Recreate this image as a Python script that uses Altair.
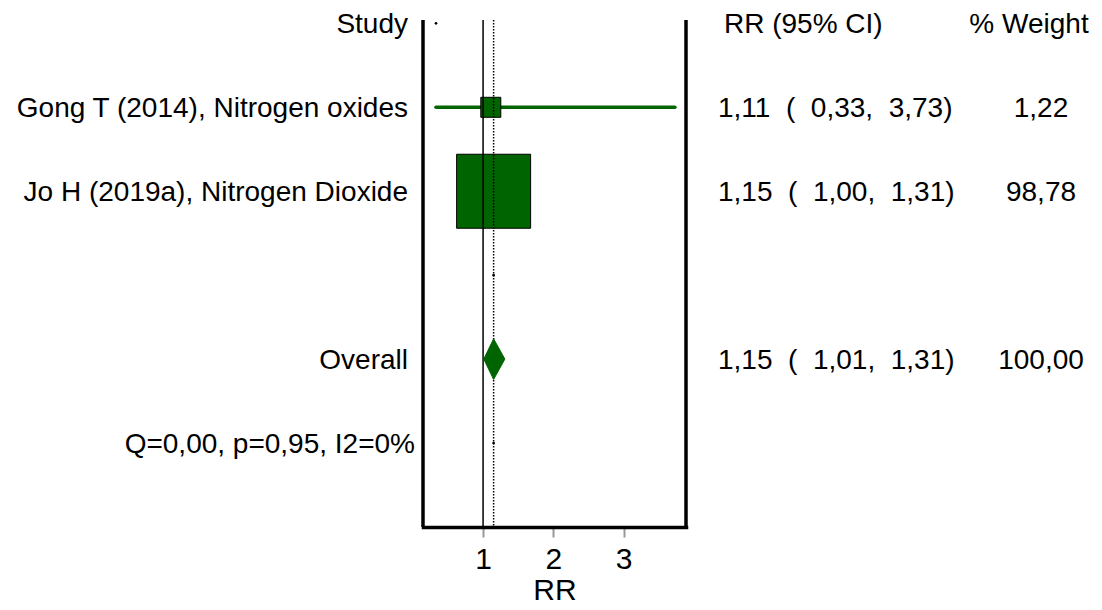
import altair as alt
import pandas as pd

# ---------------- data ----------------
header_study = "Study"
header_ci = "RR (95% CI)"
header_weight = "% Weight"
studies = ["Gong T (2014), Nitrogen oxides", "Jo H (2019a), Nitrogen Dioxide"]
rr = [1.11, 1.15]
ci_low = [0.33, 1.00]
ci_high = [3.73, 1.31]
weights = [1.22, 98.78]
overall_label = "Overall"
overall_rr = 1.15
overall_low = 1.01
overall_high = 1.31
overall_weight = 100.00
het_label = "Q=0,00, p=0,95, I2=0%"
null_value = 1
x_ticks = [1, 2, 3]
x_title = "RR"
# row order, top to bottom
row_header = 0
rows_studies = [1, 2]
row_overall = 4
row_het = 5
marker_x = [0.33, 1.15, 1.15]
marker_rows = [0, 3, 5]

# ---------------- helpers ----------------
NB = "\u00a0"


def fmt(v):
    return f"{v:.2f}".replace(".", ",")


def ci_text(e, lo, hi):
    return f"{fmt(e)}{NB*2}({NB*2}{fmt(lo)},{NB*2}{fmt(hi)})"


GREEN = "#006400"
FONT = "Liberation Sans"
FS = 28
AFS = 30
W, H = 263, 507

xs = alt.Scale(domain=[0.145, 3.888], nice=False, zero=False)
ys = alt.Scale(domain=[-0.04, 6], nice=False, zero=False, reverse=True)

studies_df = pd.DataFrame({
    "label": studies, "rr": rr, "lo": ci_low, "hi": ci_high,
    "weight": weights, "row": rows_studies,
    "ci": [ci_text(a, b, c) for a, b, c in zip(rr, ci_low, ci_high)],
    "wt": [fmt(w) for w in weights],
})

half = 0.242
diamond_df = pd.DataFrame({
    "x": [overall_low, overall_rr, overall_high],
    "y": [row_overall, row_overall - half, row_overall],
    "y2": [row_overall, row_overall + half, row_overall],
})

left_df = pd.DataFrame({
    "label": [header_study] + studies + [overall_label],
    "row": [row_header] + rows_studies + [row_overall],
})
het_df = pd.DataFrame({"label": [het_label], "row": [row_het]})
ci_head_df = pd.DataFrame({"label": [header_ci], "row": [row_header]})
wt_head_df = pd.DataFrame({"label": [header_weight], "row": [row_header]})
ci_vals_df = pd.DataFrame({
    "label": list(studies_df["ci"]) + [ci_text(overall_rr, overall_low, overall_high)],
    "row": rows_studies + [row_overall],
})
wt_vals_df = pd.DataFrame({
    "label": list(studies_df["wt"]) + [fmt(overall_weight)],
    "row": rows_studies + [row_overall],
})
ref_df = pd.DataFrame({"v": [null_value]})
pooled_df = pd.DataFrame({"v": [overall_rr]})
marker_df = pd.DataFrame({"x": marker_x, "row": marker_rows})

X_AXIS = alt.Axis(values=x_ticks, format="d", title=x_title, grid=False,
                  domainColor="black", domainWidth=3.5, domainCap="square",
                  tickColor="#999999", tickWidth=2, tickSize=10,
                  labelFont=FONT, labelFontSize=AFS, labelColor="black",
                  labelPadding=7, titleFont=FONT, titleFontSize=AFS,
                  titleFontWeight="normal", titleColor="black", titlePadding=1)

# CI lines
ci_lines = alt.Chart(studies_df).mark_rule(
    color=GREEN, strokeWidth=3.5, strokeCap="round"
).encode(
    x=alt.X("lo:Q", scale=xs, axis=X_AXIS),
    x2="hi:Q",
    y=alt.Y("row:Q", scale=ys, axis=None),
)

squares = alt.Chart(studies_df).mark_point(
    shape="square", filled=True, fill=GREEN, stroke="black", strokeWidth=1,
    opacity=1
).encode(
    x=alt.X("rr:Q", scale=xs),
    y=alt.Y("row:Q", scale=ys),
    size=alt.Size("weight:Q", scale=alt.Scale(domain=[1.22, 98.78], range=[400, 5476]),
                  legend=None),
)

ref_line = alt.Chart(ref_df).mark_rule(color="black", strokeWidth=1.5).encode(
    x=alt.X("v:Q", scale=xs), y=alt.value(0), y2=alt.value(H)
)
pooled_line = alt.Chart(pooled_df).mark_rule(
    color="black", strokeWidth=1.5, strokeDash=[1.5, 1.5]
).encode(
    x=alt.X("v:Q", scale=xs), y=alt.value(0), y2=alt.value(H)
)

diamond = alt.Chart(diamond_df).mark_area(
    color=GREEN, stroke=GREEN, strokeWidth=1, opacity=1
).encode(
    x=alt.X("x:Q", scale=xs),
    y=alt.Y("y:Q", scale=ys),
    y2="y2:Q",
)

markers = alt.Chart(marker_df).mark_circle(color="black", size=7, opacity=1).encode(
    x=alt.X("x:Q", scale=xs), y=alt.Y("row:Q", scale=ys)
)

frame_left = alt.Chart(ref_df).mark_rule(color="black", strokeWidth=3.5).encode(
    x=alt.value(0), y=alt.value(0), y2=alt.value(H)
)
frame_right = alt.Chart(ref_df).mark_rule(color="black", strokeWidth=3.5).encode(
    x=alt.value(W), y=alt.value(0), y2=alt.value(H)
)


def text_layer(df, xpx, align):
    return alt.Chart(df).mark_text(
        font=FONT, fontSize=FS, color="black", align=align, baseline="middle", dy=2
    ).encode(
        x=alt.value(xpx), y=alt.Y("row:Q", scale=ys), text="label:N"
    )


texts = [
    text_layer(left_df, -15, "right"),
    text_layer(het_df, -8, "right"),
    text_layer(ci_head_df, 301, "left"),
    text_layer(ci_vals_df, 295, "left"),
    text_layer(wt_head_df, 606, "center"),
    text_layer(wt_vals_df, 618, "center"),
]

chart = alt.layer(
    ci_lines, squares, ref_line, pooled_line, diamond, markers,
    frame_left, frame_right, *texts
).properties(
    width=W, height=H,
    autosize=alt.AutoSizeParams(type="none"),
    padding={"left": 415, "top": 12, "right": 406, "bottom": 75},
).configure(background="white").configure_view(stroke=None)

chart.save("out.html", embed_options={"renderer": "svg", "actions": False})
